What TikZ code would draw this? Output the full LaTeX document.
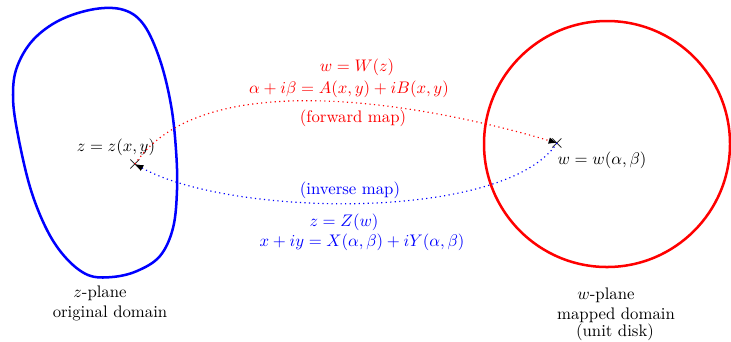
\documentclass[tikz,border=0pt]{standalone}
\usetikzlibrary{arrows.meta}
\begin{document}
\begin{tikzpicture}[x=0.021cm,y=-0.021cm,
  domainline/.style={line width=1.5pt},
  mapline/.style={dotted, line width=0.7pt, -{Latex[length=5pt,width=4pt,color=black]}},
  lbl/.style={inner sep=0pt, font=\normalsize},
  crossmark/.style={inner sep=0pt, font=\large}]
\useasboundingbox (0,0) rectangle (731,341);
% z-plane domain
\draw[domainline, blue] plot[smooth cycle, tension=0.6] coordinates {
  (95,9) (124,10) (144,25) (160,60) (171,105) (176,150) (177,190)
  (173,228) (160,256) (137,271) (112,277) (88,275) (66,258) (47,230) (30,187)
  (17,130) (13,95) (17,67) (33,40) (60,20)};
% w-plane disk
\draw[domainline, red] (607,144) circle[radius=123];
% points
\coordinate (zp) at (135,164);
\coordinate (wp) at (557,143);
\node[crossmark] (zx) at (zp) {$\times$};
\node[crossmark] (wx) at (wp) {$\times$};
\node[lbl] (zlab) at (116,147) {$z=z(x,y)$};
\node[lbl] (wlab) at (602,160) {$w=w(\alpha,\beta)$};
% maps
\draw[mapline, red] (zp) .. controls (205,60) and (440,108) .. (wp);
\draw[mapline, blue] (wp) .. controls (505,222) and (230,217) .. (zp);
% map labels
\node[lbl, red] (fw1) at (357,67) {$w=W(z)$};
\node[lbl, red] (fw2) at (349,89) {$\alpha+i\beta=A(x,y)+iB(x,y)$};
\node[lbl, red] (fw3) at (353,118) {(forward map)};
\node[lbl, blue] (iv3) at (350,190) {(inverse map)};
\node[lbl, blue] (iv1) at (344,222) {$z=Z(w)$};
\node[lbl, blue] (iv2) at (362,242) {$x+iy=X(\alpha,\beta)+iY(\alpha,\beta)$};
% captions
\node[lbl] (zc1) at (100,293) {$z$-plane};
\node[lbl] (zc2) at (110,313) {original domain};
\node[lbl] (wc1) at (606,295) {$w$-plane};
\node[lbl] (wc2) at (616,315) {mapped domain};
\node[lbl] (wc3) at (615,332) {(unit disk)};
\end{tikzpicture}
\end{document}
